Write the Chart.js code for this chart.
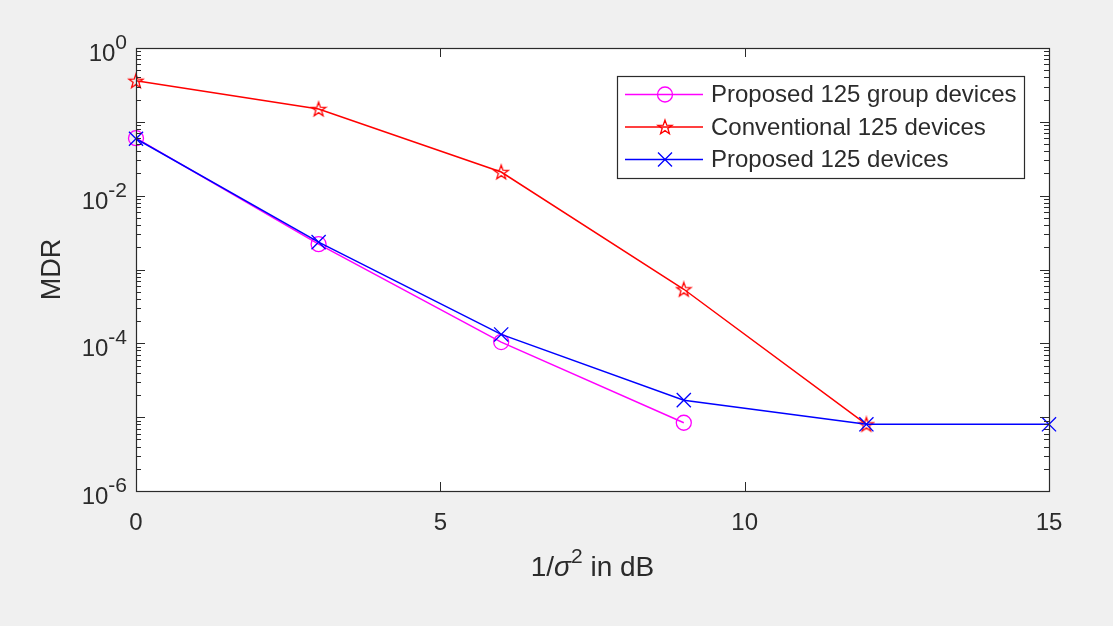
<!DOCTYPE html>
<html>
<head>
<meta charset="utf-8">
<script src="https://cdn.jsdelivr.net/npm/chart.js@4.4.0/dist/chart.umd.min.js"></script>
<style>
  html, body { margin: 0; padding: 0; background: #f0f0f0; }
</style>
</head>
<body>
<canvas id="mdrChart" width="1113" height="626"></canvas>
<script>
// ===================== DATA ===================== //
const snrDb = [0, 3, 6, 9, 12, 15];
const groupMdr = [0.060, 0.0022, 0.000104, 0.0000084];
const convMdr = [0.36, 0.149, 0.0209, 0.00054, 0.000008];
const propMdr = [0.059, 0.00235, 0.000132, 0.000017, 0.000008, 0.000008];

const xTicks = [0, 5, 10, 15];
const yLabelExps = [0, -2, -4, -6];
const seriesNames = ["Proposed 125 group devices", "Conventional 125 devices", "Proposed 125 devices"];
const seriesColors = ["#ff00ff", "#ff0000", "#0000ff"];

const FONT = '"Liberation Sans", Arial, Helvetica, sans-serif';
const TEXT = "#2b2b2b";

function toPoints(values) {
    return values.map((v, i) => ({ x: snrDb[i], y: v }));
}

// ===================== PENTAGRAM MARKER ===================== //
function makeStar(color) {
    const c = document.createElement("canvas");
    c.width = 18;
    c.height = 18;
    const g = c.getContext("2d");
    const R = 7.5, r = 3.0;
    g.beginPath();
    for (let i = 0; i < 10; i++) {
        const a = -Math.PI / 2 + i * Math.PI / 5;
        const rad = i % 2 === 0 ? R : r;
        const px = 9 + rad * Math.cos(a);
        const py = 9.6 + rad * Math.sin(a);
        if (i === 0) g.moveTo(px, py); else g.lineTo(px, py);
    }
    g.closePath();
    g.strokeStyle = color;
    g.lineWidth = 1.3;
    g.stroke();
    return c;
}
const starImg = makeStar(seriesColors[1]);

// ===================== TEXT HELPERS ===================== //
function drawPower(ctx, base, exp, rightX, midY) {
    ctx.font = "24px " + FONT;
    const wb = ctx.measureText(base).width;
    ctx.font = "21px " + FONT;
    const we = ctx.measureText(exp).width;
    const x0 = rightX - wb - we;
    ctx.textAlign = "left";
    ctx.textBaseline = "alphabetic";
    ctx.font = "24px " + FONT;
    ctx.fillText(base, x0, midY + 13);
    ctx.font = "21px " + FONT;
    ctx.fillText(exp, x0 + wb, midY + 1);
}

// ===================== AXES / LEGEND PLUGIN ===================== //
const matlabAxes = {
    id: "matlabAxes",
    beforeDraw(chart) {
        const { ctx, chartArea: a } = chart;
        ctx.save();
        ctx.fillStyle = "#f0f0f0";
        ctx.fillRect(0, 0, chart.width, chart.height);
        ctx.fillStyle = "#ffffff";
        ctx.fillRect(a.left, a.top, a.right - a.left, a.bottom - a.top);
        ctx.restore();
    },
    afterDatasetsDraw(chart) {
        const { ctx, chartArea: a, scales } = chart;
        const xs = scales.x, ys = scales.y;
        ctx.save();
        ctx.strokeStyle = TEXT;
        ctx.lineWidth = 1;

        // ticks
        ctx.beginPath();
        xTicks.forEach(t => {
            const px = Math.round(xs.getPixelForValue(t)) + 0.5;
            ctx.moveTo(px, a.bottom); ctx.lineTo(px, a.bottom - 9);
            ctx.moveTo(px, a.top); ctx.lineTo(px, a.top + 9);
        });
        for (let e = -6; e <= 0; e++) {
            for (let m = 1; m <= 9; m++) {
                const v = m * Math.pow(10, e);
                if (v > 1) break;
                const py = Math.round(ys.getPixelForValue(v)) + 0.5;
                const len = m === 1 ? 9 : 5;
                ctx.moveTo(a.left, py); ctx.lineTo(a.left + len, py);
                ctx.moveTo(a.right, py); ctx.lineTo(a.right - len, py);
            }
        }
        ctx.stroke();

        // box
        ctx.lineWidth = 1.2;
        ctx.strokeRect(Math.round(a.left) + 0.5, Math.round(a.top) + 0.5,
            Math.round(a.right - a.left), Math.round(a.bottom - a.top));

        // tick labels
        ctx.fillStyle = TEXT;
        ctx.font = "24px " + FONT;
        ctx.textAlign = "center";
        ctx.textBaseline = "alphabetic";
        xTicks.forEach(t => {
            ctx.fillText(String(t), xs.getPixelForValue(t), a.bottom + 39);
        });
        yLabelExps.forEach(e => {
            const py = ys.getPixelForValue(Math.pow(10, e));
            drawPower(ctx, "10", e === 0 ? "0" : "-" + Math.abs(e), a.left - 9, py);
        });

        // y title
        ctx.save();
        ctx.translate(60, (a.top + a.bottom) / 2);
        ctx.rotate(-Math.PI / 2);
        ctx.font = "27px " + FONT;
        ctx.textAlign = "center";
        ctx.textBaseline = "alphabetic";
        ctx.fillText("MDR", 0, 0);
        ctx.restore();

        // x title: 1/σ^2 in dB
        const parts = [
            { t: "1/", f: "28px " + FONT, dy: 0 },
            { t: "σ", f: "italic 28px " + FONT, dy: 0 },
            { t: "2", f: "21px " + FONT, dy: -13 },
            { t: " in dB", f: "28px " + FONT, dy: 0 }
        ];
        let total = 0;
        parts.forEach(p => { ctx.font = p.f; p.w = ctx.measureText(p.t).width; total += p.w; });
        let cx = (a.left + a.right) / 2 - total / 2;
        const baseY = a.bottom + 85;
        ctx.textAlign = "left";
        parts.forEach(p => { ctx.font = p.f; ctx.fillText(p.t, cx, baseY + p.dy); cx += p.w; });

        // legend
        const box = { l: 617, t: 76, r: 1024, b: 178 };
        ctx.fillStyle = "#ffffff";
        ctx.fillRect(box.l, box.t, box.r - box.l, box.b - box.t);
        ctx.lineWidth = 1.2;
        ctx.strokeStyle = TEXT;
        ctx.strokeRect(box.l + 0.5, box.t + 0.5, box.r - box.l, box.b - box.t);
        const rows = [94.5, 127, 159.5];
        rows.forEach((ry, i) => {
            const col = seriesColors[i];
            ctx.strokeStyle = col;
            ctx.lineWidth = 1.5;
            ctx.beginPath();
            ctx.moveTo(625, ry); ctx.lineTo(703, ry);
            ctx.stroke();
            const mx = 665;
            if (i === 0) {
                ctx.beginPath();
                ctx.arc(mx, ry, 7.5, 0, Math.PI * 2);
                ctx.lineWidth = 1.3;
                ctx.stroke();
            } else if (i === 1) {
                ctx.drawImage(starImg, mx - 9, ry - 9);
            } else {
                ctx.lineWidth = 1.3;
                ctx.beginPath();
                ctx.moveTo(mx - 7, ry - 7); ctx.lineTo(mx + 7, ry + 7);
                ctx.moveTo(mx + 7, ry - 7); ctx.lineTo(mx - 7, ry + 7);
                ctx.stroke();
            }
            ctx.fillStyle = TEXT;
            ctx.font = "24px " + FONT;
            ctx.textAlign = "left";
            ctx.textBaseline = "middle";
            ctx.fillText(seriesNames[i], 711, ry + 1);
        });
        ctx.restore();
    }
};

// ===================== CHART ===================== //
const ctx = document.getElementById("mdrChart").getContext("2d");

const mdrChart = new Chart(ctx, {
    type: "line",
    data: {
        datasets: [
            {
                label: seriesNames[0],
                data: toPoints(groupMdr),
                borderColor: seriesColors[0],
                borderWidth: 1.5,
                pointStyle: "circle",
                pointRadius: 7.5,
                pointBorderWidth: 1.3,
                pointBorderColor: seriesColors[0],
                pointBackgroundColor: "rgba(0,0,0,0)",
                tension: 0,
                clip: false,
                order: 3
            },
            {
                label: seriesNames[1],
                data: toPoints(convMdr),
                borderColor: seriesColors[1],
                borderWidth: 1.5,
                pointStyle: starImg,
                pointRadius: 7.5,
                tension: 0,
                clip: false,
                order: 2
            },
            {
                label: seriesNames[2],
                data: toPoints(propMdr),
                borderColor: seriesColors[2],
                borderWidth: 1.5,
                pointStyle: "crossRot",
                pointRadius: 10,
                pointBorderWidth: 1.3,
                pointBorderColor: seriesColors[2],
                tension: 0,
                clip: false,
                order: 1
            }
        ]
    },
    options: {
        responsive: false,
        animation: false,
        layout: { padding: { left: 136, right: 64, top: 48, bottom: 135 } },
        plugins: {
            legend: { display: false },
            tooltip: { enabled: false }
        },
        scales: {
            x: { type: "linear", min: 0, max: 15, display: false },
            y: { type: "logarithmic", min: 1e-6, max: 1, display: false }
        }
    },
    plugins: [matlabAxes]
});
</script>
</body>
</html>
